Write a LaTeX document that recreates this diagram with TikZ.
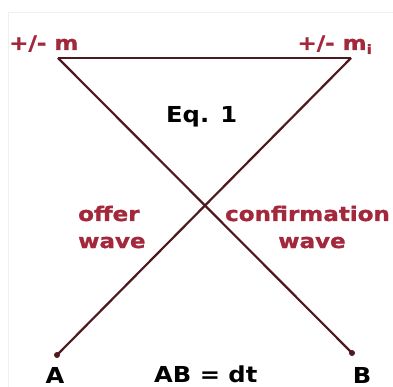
\documentclass[tikz,border=0pt]{standalone}
\usepackage{fontspec}
\newfontfamily\redfont{DejaVu Sans Bold}[FakeStretch=1.15,FakeBold=1.2]
\newfontfamily\blkfont{DejaVu Sans Bold}[FakeStretch=1.1]
\definecolor{labred}{HTML}{A3283C}
\definecolor{linecol}{HTML}{4E1A20}
\begin{document}
\begin{tikzpicture}[x=1pt,y=-1pt,
  redlab/.style={text=labred,inner sep=0pt,font=\redfont\fontsize{20}{20}\selectfont},
  blklab/.style={text=black,inner sep=0pt,font=\blkfont\fontsize{22}{22}\selectfont},
  wline/.style={draw=linecol,line width=2.2pt},
  enddot/.style={circle,fill=linecol,inner sep=0pt,minimum size=6pt}]
\useasboundingbox (0,0) rectangle (393,387);
\fill[white] (0,0) rectangle (393,387);
\draw[gray!12,line width=0.8pt] (8,387) -- (8,12) -- (393,12);
% end points
\coordinate (m) at (58,58);
\coordinate (mi) at (351,58);
\node[enddot] (a) at (57,355) {};
\node[enddot] (b) at (352,353) {};
% connectors
\draw[wline] (m) -- (mi);
\draw[wline] (m) -- (b.center);
\draw[wline] (mi) -- (a.center);
% labels
\node[redlab,anchor=base west] (lm) at (9,50) {+/- m};
\node[redlab,anchor=base east] (lmi) at (372,50) {+/- m{\fontsize{13}{13}\selectfont\raisebox{-4pt}{i}}};
\node[blklab,anchor=base west] (eq) at (166,123) {Eq. 1};
\node[redlab,anchor=base west] (offer) at (78,221) {offer};
\node[redlab,anchor=base west] (wave1) at (78,248) {wave};
\node[redlab,anchor=base] (conf) at (307.5,221) {confirmation};
\node[redlab,anchor=base] (wave2) at (312,248) {wave};
\node[blklab,anchor=base] (la) at (55,383) {A};
\node[blklab,anchor=base west] (ab) at (154,382) {AB = dt};
\node[blklab,anchor=base] (lb) at (362,383) {B};
\end{tikzpicture}
\end{document}
